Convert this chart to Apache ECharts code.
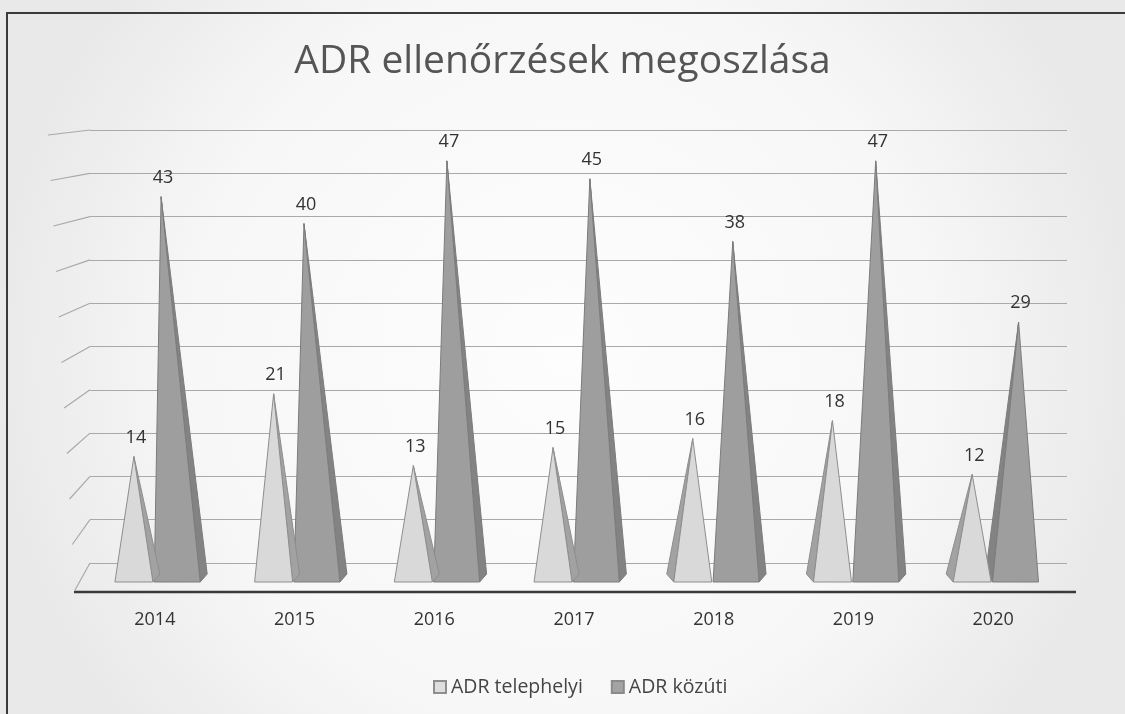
<!DOCTYPE html>
<html>
<head>
<meta charset="utf-8">
<script src="https://cdn.jsdelivr.net/npm/echarts@6/dist/echarts.min.js"></script>
<style>
  * { margin: 0; padding: 0; }
  body { background: #f1f1f1; }
</style>
</head>
<body>
<div id="main" style="width: 1125px;height: 714px;"></div>
<script>
  // adatok
  var years = ['2014', '2015', '2016', '2017', '2018', '2019', '2020'];
  var telephelyi = [14, 21, 13, 15, 16, 18, 12];
  var kozuti = [43, 40, 47, 45, 38, 47, 29];
  var seriesNames = ['ADR telephelyi', 'ADR közúti'];
  var yMax = 50;
  var yStep = 5;

  var font = 'Open Sans';
  var chart = echarts.init(document.getElementById('main'));

  // gúla rajzolása: elülső lap + oldallap + felirat
  function pyramid(kind) {
    return function (params, api) {
      var idx = api.value(0);
      var v = api.value(1);
      var base = api.coord([idx, 0]);
      var top = api.coord([idx, v]);
      var band = api.size([1, 0])[0];
      var by = base[1], ty = top[1];
      var cx, half, ax, s, face, side, edge;
      if (kind === 'light') {
        cx = base[0] - band * 0.15;
        half = 19;
        ax = cx;
        s = cx < api.getWidth() / 2 ? 1 : -1;
        face = '#d9d9d9'; side = '#a2a2a2'; edge = '#8e8e8e';
      } else {
        cx = base[0] + band * 0.16;
        half = 23;
        ax = cx + (cx - 880) * 0.023;
        s = ax < cx ? 1 : -1;
        face = '#9e9e9e'; side = '#838383'; edge = '#7c7c7c';
      }
      return {
        type: 'group',
        children: [
          {
            type: 'polygon',
            shape: { points: [[ax, ty], [cx + s * half, by], [cx + s * (half + 7), by - 8]] },
            style: { fill: side, stroke: edge, lineWidth: 1 }
          },
          {
            type: 'polygon',
            shape: { points: [[cx - half, by], [cx + half, by], [ax, ty]] },
            style: { fill: face, stroke: edge, lineWidth: 1 }
          },
          {
            type: 'text',
            x: ax + 2,
            y: ty - 10,
            style: {
              text: String(v),
              align: 'center',
              verticalAlign: 'bottom',
              fontSize: 18,
              fontFamily: font,
              fill: '#333'
            }
          }
        ]
      };
    };
  }

  chart.setOption({
    backgroundColor: {
      type: 'radial', x: 0.5, y: 0.5, r: 0.8,
      colorStops: [
        { offset: 0, color: '#fdfdfd' },
        { offset: 0.65, color: '#f7f7f7' },
        { offset: 1, color: '#e9e9e9' }
      ]
    },
    title: {
      text: 'ADR ellenőrzések megoszlása',
      left: 'center',
      top: 42,
      padding: 0,
      textStyle: { fontSize: 39, fontWeight: 'normal', color: '#555', fontFamily: font }
    },
    legend: {
      data: seriesNames,
      top: 672,
      left: 428,
      icon: 'rect',
      itemWidth: 12,
      itemHeight: 12,
      itemGap: 28,
      textStyle: { fontSize: 19.5, color: '#444', fontFamily: font }
    },
    grid: [
      // hátsó fal
      { left: 90, right: 58, top: 130, bottom: 151 },
      // gúlák
      { left: 85, right: 62, top: 134, bottom: 132 }
    ],
    xAxis: [
      { gridIndex: 0, type: 'category', data: years, show: false },
      {
        gridIndex: 1, type: 'category', data: years,
        axisLine: { show: false },
        axisTick: { show: false },
        axisLabel: { margin: 29, fontSize: 18, color: '#333', fontFamily: font }
      }
    ],
    yAxis: [
      {
        gridIndex: 0, type: 'value', min: 0, max: yMax, interval: yStep,
        axisLine: { show: false }, axisTick: { show: false }, axisLabel: { show: false },
        splitLine: { lineStyle: { color: '#a9a9a9', width: 1.2 } }
      },
      {
        gridIndex: 1, type: 'value', min: 0, max: yMax, interval: yStep,
        show: false, splitLine: { show: false }
      }
    ],
    series: [
      {
        name: seriesNames[1],
        type: 'custom',
        xAxisIndex: 1, yAxisIndex: 1,
        z: 2,
        itemStyle: { color: '#a3a3a3', borderColor: '#8a8a8a', borderWidth: 1 },
        renderItem: pyramid('dark'),
        data: kozuti.map(function (v, i) { return [i, v]; })
      },
      {
        name: seriesNames[0],
        type: 'custom',
        xAxisIndex: 1, yAxisIndex: 1,
        z: 3,
        itemStyle: { color: '#dedede', borderColor: '#8e8e8e', borderWidth: 1 },
        renderItem: pyramid('light'),
        data: telephelyi.map(function (v, i) { return [i, v]; })
      }
    ]
  });

  // bal oldalfal perspektivikus vonalai, padló vonal, keret
  var deco = [];
  var yTop = chart.convertToPixel({ yAxisIndex: 0 }, yMax);
  var yBot = chart.convertToPixel({ yAxisIndex: 0 }, 0);
  for (var t = 0; t <= yMax; t += yStep) {
    var y = chart.convertToPixel({ yAxisIndex: 0 }, t);
    var f = (y - yTop) / (yBot - yTop);
    deco.push({
      type: 'line',
      shape: { x1: 48 + 27 * f, y1: y + 5 + 22 * f, x2: 90, y2: y },
      style: { stroke: '#a9a9a9', lineWidth: 1.2 }
    });
  }
  deco.push({
    type: 'line',
    shape: { x1: 74, y1: 592, x2: 1076, y2: 592 },
    style: { stroke: '#3a3a3a', lineWidth: 2.5 }
  });
  deco.push({
    type: 'polyline',
    shape: { points: [[7, 714], [7, 13], [1125, 13]] },
    style: { stroke: '#3a3a3a', lineWidth: 2, fill: null }
  });
  chart.setOption({ graphic: deco });
</script>
</body>
</html>
